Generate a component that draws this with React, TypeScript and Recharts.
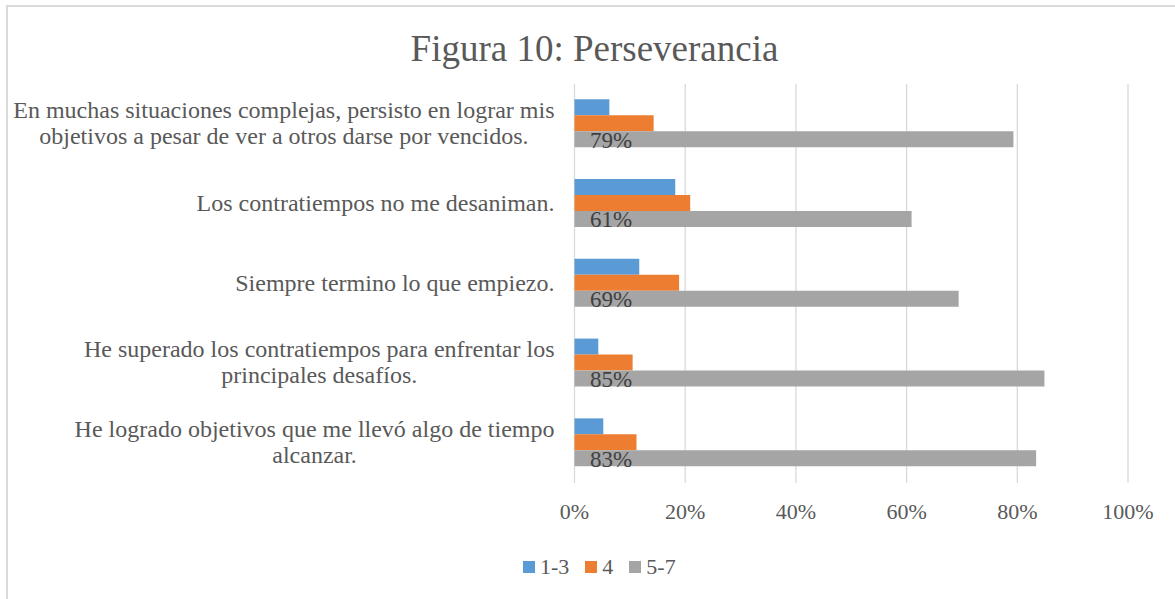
import { BarChart, Bar, XAxis, YAxis, CartesianGrid, Legend, LabelList } from "recharts";

const categories = [
  "En muchas situaciones complejas, persisto en lograr mis objetivos a pesar de ver a otros darse por vencidos.",
  "Los contratiempos no me desaniman.",
  "Siempre termino lo que empiezo.",
  "He superado los contratiempos para enfrentar los principales desafíos.",
  "He logrado objetivos que me llevó algo de tiempo alcanzar.",
];

const seriesNames = ["1-3", "4", "5-7"];
const low = [0.063, 0.182, 0.117, 0.043, 0.052];
const mid = [0.143, 0.209, 0.189, 0.105, 0.112];
const high = [0.793, 0.609, 0.694, 0.849, 0.834];
const xTicks = [0, 0.2, 0.4, 0.6, 0.8, 1];

const colors = ["#5B9BD5", "#ED7D31", "#A5A5A5"];
const FONT = "'Times New Roman', 'Liberation Serif', serif";

const data = categories.map((name, i) => ({
  name,
  low: low[i],
  mid: mid[i],
  high: high[i],
}));

let ctx: CanvasRenderingContext2D | null = null;
function measure(text: string, size: number) {
  if (!ctx) ctx = document.createElement("canvas").getContext("2d");
  if (!ctx) return text.length * size * 0.45;
  ctx.font = `${size}px 'Liberation Serif', serif`;
  return ctx.measureText(text).width;
}

// wrap the label the way Excel does, into lines no wider than maxW
function wrap(text: string, size: number, maxW: number) {
  const words = text.split(" ");
  const lines: string[] = [];
  let cur = "";
  words.forEach((w) => {
    const next = cur ? cur + " " + w : w;
    if (cur && measure(next, size) > maxW) {
      lines.push(cur);
      cur = w;
    } else {
      cur = next;
    }
  });
  if (cur) lines.push(cur);
  return lines;
}

const CategoryTick = (props: any) => {
  const { x, y, payload } = props;
  const lines = wrap(String(payload.value), 24, 555);
  const maxW = Math.max(...lines.map((l) => measure(l, 24)));
  const cx = x - maxW / 2;
  return (
    <g>
      {lines.map((line, i) => (
        <text
          key={i}
          x={cx}
          y={y + (i - (lines.length - 1) / 2) * 26 + 7}
          textAnchor="middle"
          fill="#595959"
          fontSize={24}
          fontFamily={FONT}
        >
          {line}
        </text>
      ))}
    </g>
  );
};

const ValueLabel = (props: any) => {
  const { x, y, height, value } = props;
  return (
    <text
      x={x + 15.5}
      y={y + height / 2 + 8.5}
      fill="#404040"
      fontSize={23}
      fontFamily={FONT}
    >
      {Math.round(value * 100) + "%"}
    </text>
  );
};

const LegendContent = () => (
  <div style={{ display: "flex", alignItems: "center", fontFamily: FONT, fontSize: 22, color: "#595959" }}>
    {seriesNames.map((n, i) => (
      <div key={n} style={{ display: "flex", alignItems: "center", marginRight: 16 }}>
        <span style={{ width: 12, height: 12, background: colors[i], marginRight: 5, display: "inline-block" }} />
        <span>{n}</span>
      </div>
    ))}
  </div>
);

export default function App() {
  return (
    <div
      style={{
        position: "absolute",
        left: 0,
        top: 0,
        width: 1175,
        height: 599,
        overflow: "hidden",
        background: "#fff",
      }}
    >
      <div
        style={{
          position: "absolute",
          left: 6,
          top: 5,
          width: 1220,
          height: 700,
          border: "2px solid #d9d9d9",
        }}
      />
      <div
        style={{
          position: "absolute",
          left: 0,
          top: 30,
          width: 1189,
          textAlign: "center",
          fontFamily: FONT,
          fontSize: 37,
          lineHeight: "37px",
          color: "#595959",
        }}
      >
        Figura 10: Perseverancia
      </div>
      <div style={{ position: "absolute", left: 0, top: 0 }}>
        <BarChart
          width={1175}
          height={599}
          data={data}
          layout="vertical"
          margin={{ top: 84, right: 47, bottom: 86, left: 14.5 }}
          barCategoryGap="19%"
          barGap={0}
        >
          <CartesianGrid horizontal={false} stroke="#d9d9d9" strokeWidth={1.3} />
          <XAxis
            type="number"
            domain={[0, 1]}
            ticks={xTicks}
            tickFormatter={(v: number) => Math.round(v * 100) + "%"}
            axisLine={false}
            tickLine={false}
            tickSize={0}
            tickMargin={20}
            height={30}
            tick={{ fill: "#595959", fontSize: 22, fontFamily: FONT }}
            interval={0}
          />
          <YAxis
            type="category"
            dataKey="name"
            width={560}
            axisLine={false}
            tickLine={false}
            tickSize={0}
            tickMargin={20}
            tick={<CategoryTick />}
            interval={0}
          />
          <Legend
            verticalAlign="middle"
            align="center"
            layout="horizontal"
            wrapperStyle={{ top: 554, left: 523, width: "auto" }}
            content={<LegendContent />}
          />
          <Bar dataKey="low" name={seriesNames[0]} fill={colors[0]} isAnimationActive={false} />
          <Bar dataKey="mid" name={seriesNames[1]} fill={colors[1]} isAnimationActive={false} />
          <Bar dataKey="high" name={seriesNames[2]} fill={colors[2]} isAnimationActive={false}>
            <LabelList dataKey="high" content={<ValueLabel />} />
          </Bar>
        </BarChart>
      </div>
    </div>
  );
}
